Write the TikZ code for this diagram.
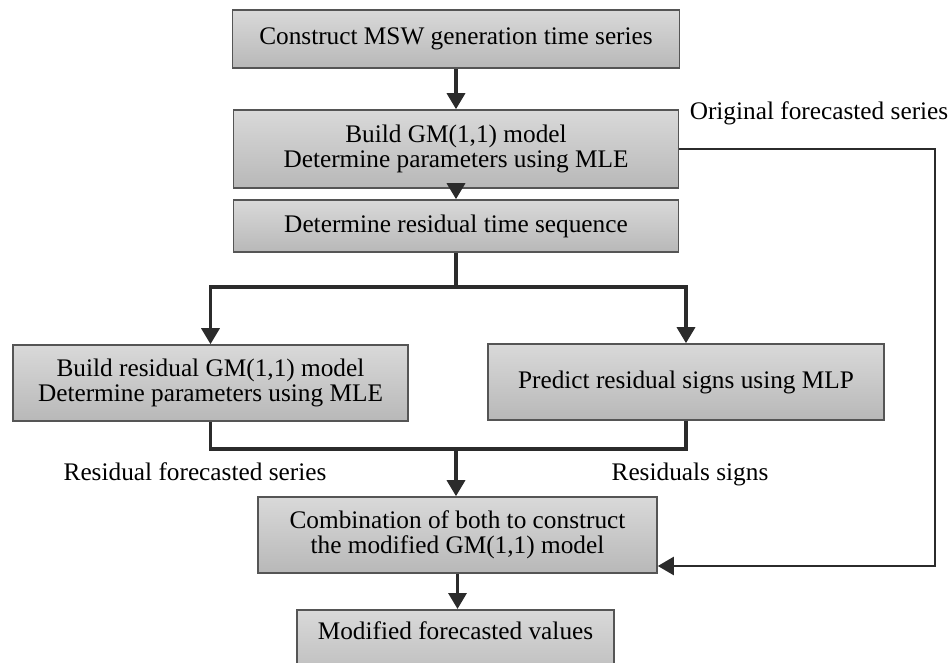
\documentclass[tikz,border=0pt]{standalone}
\usepackage{fontspec}
\setmainfont{Liberation Serif}
\usetikzlibrary{arrows.meta}
\definecolor{boxtop}{HTML}{D9D9D9}
\definecolor{boxbot}{HTML}{B8B8B8}
\definecolor{boxline}{HTML}{555555}
\definecolor{wire}{HTML}{2B2B2B}
\tikzset{
  every node/.style={font=\fontsize{25.3}{25.5}\selectfont},
  stepbox/.style={draw=boxline, line width=1.6pt, top color=boxtop, bottom color=boxbot,
    align=center, inner sep=0pt},
  conn/.style={draw=wire, line width=3.4pt},
  arr/.style={conn, -{Triangle[length=16pt,width=18pt]}},
  sideline/.style={draw=wire, line width=2.4pt},
  sidearr/.style={sideline, -{Triangle[length=16pt,width=18pt]}},
  lbl/.style={inner sep=0pt}
}
\begin{document}
\begin{tikzpicture}[x=1pt,y=1pt]
\useasboundingbox (0,0) rectangle (951,-663);

% process boxes
\node[stepbox, minimum width=447, minimum height=58] (b1) at (456,-39)
  {Construct MSW generation time series};
\node[stepbox, minimum width=445, minimum height=78] (b2) at (456,-149)
  {Build GM(1,1) model\\Determine parameters using MLE};
\node[stepbox, minimum width=445, minimum height=52] (b3) at (456,-226)
  {Determine residual time sequence};
\node[stepbox, minimum width=395, minimum height=76] (b4) at (210.5,-383)
  {Build residual GM(1,1) model\\Determine parameters using MLE};
\node[stepbox, minimum width=396, minimum height=76] (b4b) at (686,-382)
  {Predict residual signs using MLP};
\node[stepbox, minimum width=399, minimum height=76] (b5) at (457.5,-535)
  {Combination of both to construct\\the modified GM(1,1) model};
\node[stepbox, anchor=north, minimum width=317, text height=30, text depth=50] (b6) at (455.5,-609)
  {Modified forecasted values};

% labels
\node[lbl] (l1) at (819,-113) {Original forecasted series};
\node[lbl] (l2) at (195,-472) {Residual forecasted series};
\node[lbl] (l3) at (690,-474) {Residuals signs};

% junction points
\coordinate (split) at (456,-287);
\coordinate (join) at (456,-449);
\coordinate (rc) at (935,-566);

% connectors
\draw[arr] (b1.south) -- (b2.north);
\draw[arr] (b2.south) -- (b3.north);
\draw[conn] (b3.south) -- (split);
\draw[arr] (split) -| (b4.north);
\draw[arr] (split) -| (b4b.north);
\draw[conn] (b4.south) |- (join);
\draw[conn] (b4b.south) |- (join);
\draw[arr] (join) -- (join |- b5.north);
\draw[arr] (b5.south) -- (b5.south |- b6.north);
\draw[sidearr] (b2.east) -| (rc) -- (rc -| b5.east);
\end{tikzpicture}
\end{document}
